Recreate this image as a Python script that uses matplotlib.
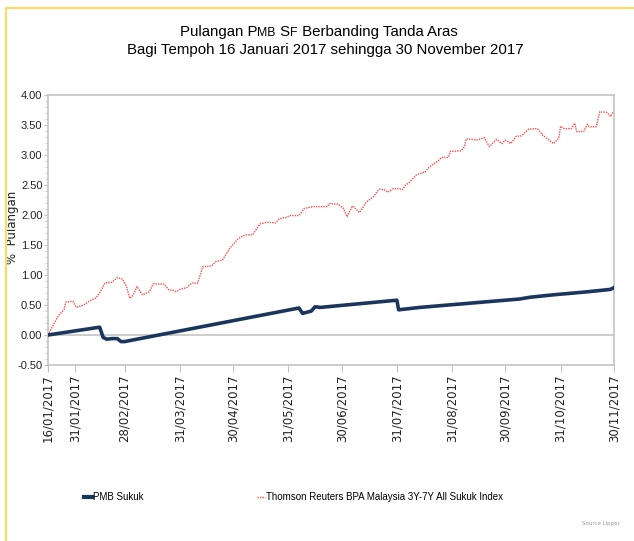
import pandas as pd
import matplotlib
matplotlib.use("Agg")
import matplotlib.pyplot as plt
from matplotlib.ticker import MultipleLocator, FormatStrFormatter
from matplotlib.lines import Line2D

start = pd.Timestamp("2017-01-16")

# Thomson Reuters index: day offset from 16/01/2017, return %
index_days = [0, 3, 6, 9, 10, 14, 16, 20, 23, 27, 29, 32, 36, 39, 42, 44, 46, 48, 50, 53,
              57, 59, 65, 68, 70, 72, 74, 78, 81, 84, 87, 92, 94, 98, 102, 107, 111, 115,
              119, 123, 128, 130, 134, 136, 141, 144, 149, 153, 157, 158, 163, 166, 168,
              171, 172, 175, 179, 183, 186, 189, 191, 194, 197, 199, 201, 203, 207, 212,
              214, 217, 220, 221, 225, 226, 232, 234, 235, 241, 245, 248, 252, 255, 257,
              260, 263, 266, 270, 275, 278, 284, 287, 288, 290, 294, 296, 297, 301, 303,
              304, 308, 310, 314, 316, 318]
index_vals = [0.00, 0.17, 0.33, 0.42, 0.55, 0.56, 0.46, 0.50, 0.56, 0.62, 0.70, 0.87, 0.88,
              0.96, 0.93, 0.81, 0.61, 0.67, 0.81, 0.67, 0.72, 0.85, 0.85, 0.75, 0.75, 0.72,
              0.76, 0.79, 0.87, 0.86, 1.14, 1.15, 1.22, 1.25, 1.44, 1.61, 1.67, 1.67, 1.85,
              1.88, 1.87, 1.94, 1.96, 1.99, 1.99, 2.11, 2.14, 2.14, 2.14, 2.19, 2.18, 2.11,
              1.97, 2.15, 2.13, 2.04, 2.22, 2.31, 2.43, 2.42, 2.38, 2.44, 2.44, 2.42, 2.50,
              2.54, 2.67, 2.72, 2.79, 2.86, 2.92, 2.96, 2.96, 3.06, 3.07, 3.14, 3.27, 3.25,
              3.29, 3.14, 3.26, 3.19, 3.25, 3.19, 3.31, 3.32, 3.43, 3.44, 3.33, 3.19, 3.28,
              3.48, 3.44, 3.44, 3.53, 3.39, 3.39, 3.51, 3.47, 3.47, 3.72, 3.71, 3.64, 3.74]

# PMB Sukuk
pmb_days = [0, 29, 31, 33, 36, 39, 41, 43, 141, 143, 148, 150, 153, 196, 197, 209, 237,
            265, 271, 284, 303, 316, 318]
pmb_vals = [0.00, 0.13, -0.04, -0.07, -0.06, -0.06, -0.11, -0.11, 0.45, 0.36, 0.40, 0.47,
            0.46, 0.58, 0.42, 0.46, 0.53, 0.60, 0.63, 0.67, 0.72, 0.76, 0.79]

tick_labels = ["16/01/2017", "31/01/2017", "28/02/2017", "31/03/2017", "30/04/2017",
               "31/05/2017", "30/06/2017", "31/07/2017", "31/08/2017", "30/09/2017",
               "31/10/2017", "30/11/2017"]

index_x = start + pd.to_timedelta(index_days, unit="D")
pmb_x = start + pd.to_timedelta(pmb_days, unit="D")
tick_x = pd.to_datetime(tick_labels, format="%d/%m/%Y")

W, H = 634, 541
fig = plt.figure(figsize=(W / 100, H / 100), dpi=100)
ax = fig.add_axes([48 / W, 1 - 365 / H, 566 / W, 270 / H])

navy = "#1b365d"
red = "#ff4d4d"
grey = "#c4c4c4"

ax.axhline(0, color=grey, lw=1.2, zorder=1)
ax.plot(index_x, index_vals, color=red, lw=1.0, ls=(0, (1, 0.8)), zorder=2)
ax.plot(pmb_x, pmb_vals, color=navy, lw=2.6, zorder=3)

ax.set_xlim(tick_x[0], tick_x[-1])
ax.set_ylim(-0.5, 4.0)
ax.yaxis.set_major_locator(MultipleLocator(0.5))
ax.yaxis.set_minor_locator(MultipleLocator(0.1))
ax.yaxis.set_major_formatter(FormatStrFormatter("%.2f"))
ax.set_xticks(tick_x)
ax.set_xticklabels(tick_labels, rotation=90, fontsize=8.5, color="#222222",
                   family="DejaVu Sans")
for lab in ax.get_yticklabels():
    lab.set_family("Liberation Sans")
    lab.set_fontsize(8)
    lab.set_color("#222222")

for s in ax.spines.values():
    s.set_color(grey)
    s.set_linewidth(1.2)
ax.tick_params(axis="x", length=5, color=grey, pad=2)
ax.tick_params(axis="y", which="major", length=3, color=grey, pad=1)
ax.tick_params(axis="y", which="minor", length=2, color=grey)

ax.set_ylabel("%  Pulangan", fontsize=8.5, family="DejaVu Sans", color="#222222",
              va="center")
ax.yaxis.set_label_coords(-0.062, 0.51)

# title with small-caps pieces
fs = 10.8
t = fig.text(180 / W, 1 - 39 / H, "Pulangan P", fontsize=fs, family="Liberation Sans",
             va="bottom", ha="left")
for piece, size in [("MB", fs * 0.82), (" S", fs), ("F", fs * 0.82),
                    (" Berbanding Tanda Aras", fs)]:
    t = ax.annotate(piece, xy=(1, 0), xycoords=t, va="bottom", ha="left",
                    fontsize=size, family="Liberation Sans")
fig.text(325 / W, 1 - 57 / H, "Bagi Tempoh 16 Januari 2017 sehingga 30 November 2017",
         fontsize=fs, family="Liberation Sans", ha="center", va="bottom")

handles = [Line2D([], [], color=navy, lw=3),
           Line2D([], [], color=red, lw=1.0, ls=(0, (1, 0.8)))]
fig.legend(handles, ["PMB Sukuk", "Thomson Reuters BPA Malaysia 3Y-7Y All Sukuk Index"],
           loc="center left", bbox_to_anchor=(75 / W, 1 - 497 / H), ncol=2,
           frameon=False, handlelength=0.8, handletextpad=0.2, columnspacing=11.6,
           prop={"family": "Liberation Sans", "size": 7})

fig.text(601 / W, 1 - 523 / H, "Source Lipper", fontsize=4, color="#999999",
         ha="center", va="center")

# yellow frame
yellow = "#ffd966"
fig.add_artist(Line2D([6 / W, 6 / W, 1], [0, 1 - 8 / H, 1 - 8 / H], color=yellow, lw=1.6,
                      transform=fig.transFigure))

fig.savefig("out.png", dpi=100)
